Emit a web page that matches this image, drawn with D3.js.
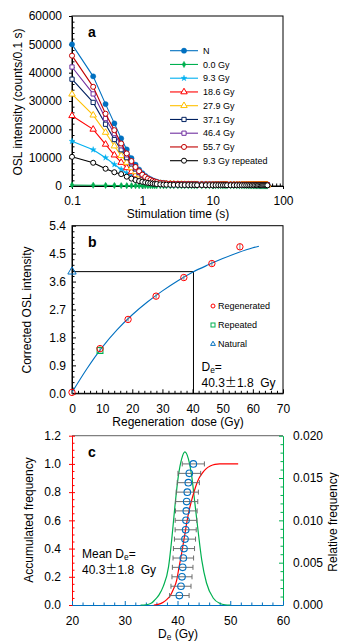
<!DOCTYPE html>
<html><head><meta charset="utf-8">
<script src="https://cdn.jsdelivr.net/npm/d3@7"></script>
<style>
body{margin:0;background:#fff}
svg{display:block}
text{font-family:"Liberation Sans",Arial,sans-serif;fill:#000}
</style>
</head><body>
<svg id="chart" width="339" height="642"></svg>
<script>
// ---------- Panel a data ----------
const timeA = [0.1,0.2,0.3,0.4,0.5,0.6,0.7,0.8,0.9,1.0,1.1,1.2,1.3,1.4,1.5,1.6,1.8,2.0,2.2,2.5,2.8,3.2,3.6,4,4.5,5,5.5,6,7,8,9,10,11,12,13,14,15,16,18,20,22,24,26,28,30,32,34,36,38,40,42,44,46,48,50,52,54,56,58,60];
const serN   = [50000,38700,28900,22100,16800,12900,9800,7500,5800,4500,3600,2900,2400,2000,1700,1500,1200,1050,950,860,800,750,720,700,680,660,650,640,630,620,610,600,595,590,585,580,575,570,565,560,555,550,548,545,542,540,538,535,532,530,528,525,522,520,518,515,512,510,508,505];
const ser00  = [350,280,210,170,140,120,105,95,88,82,78,75,72,70,68,66,64,62,60,58,57,56,55,54,53,52,52,51,51,50,50,50,49,49,49,48,48,48,47,47,47,46,46,46,45,45,45,45,44,44,44,44,43,43,43,43,42,42,42,42];
const ser93  = [15800,12800,10000,7600,5900,4600,3600,2800,2300,1900,1550,1300,1100,940,820,720,600,520,470,430,400,380,365,353,343,335,328,322,317,312,308,304,300,297,294,291,288,286,284,281,279,277,275,273,271,270,268,266,265,263,262,260,259,258,256,255,254,253,251,250];
const ser186 = [24800,20000,14700,10900,8300,6400,5000,3900,3100,2500,2000,1650,1380,1170,1000,880,720,640,580,535,500,475,458,444,433,423,415,408,402,396,391,386,382,378,374,371,368,365,362,359,357,354,352,350,348,346,344,342,340,338,337,335,333,332,330,329,327,326,324,323];
const ser279 = [32400,25000,18900,14100,10700,8300,6400,5000,3900,3100,2500,2000,1650,1400,1200,1050,860,760,690,630,590,560,540,520,508,496,487,479,471,464,458,452,447,443,439,435,431,428,424,421,418,415,413,410,408,405,403,401,399,397,395,393,391,389,387,385,383,381,379,377];
const ser371 = [37700,29500,21800,16400,12800,10000,7800,6000,4700,3700,2950,2400,1950,1650,1400,1230,1000,880,800,730,680,645,620,600,585,572,562,553,545,537,530,524,518,513,508,504,500,496,492,488,485,482,479,476,473,470,468,465,463,461,459,457,455,453,451,449,447,445,443,441];
const ser464 = [42000,32500,23800,18500,14200,11000,8400,6400,5000,3900,3100,2500,2050,1720,1480,1300,1060,930,840,770,720,680,650,630,615,600,590,580,570,560,553,546,540,535,530,525,521,517,513,509,505,502,499,496,493,490,487,485,482,480,477,475,473,471,469,467,465,463,461,459];
const ser557 = [46000,35000,25500,19700,15000,11500,8800,6700,5200,4000,3200,2600,2150,1800,1550,1350,1100,960,870,800,750,710,680,660,640,625,615,605,595,585,578,570,565,560,555,550,546,542,538,534,530,527,524,521,518,515,512,510,507,505,502,500,498,496,494,492,490,488,486,484];
const ser93r = [10300,8200,6100,4850,4200,3300,2600,2100,1750,1480,1270,1100,960,850,760,690,580,510,460,420,395,375,360,348,338,330,323,317,312,307,303,299,296,293,290,287,284,282,280,278,276,274,272,270,268,267,265,264,262,261,260,258,257,256,255,253,252,251,250,249];
const seriesNamesA = ["N","0.0 Gy","9.3 Gy","18.6 Gy","27.9 Gy","37.1 Gy","46.4 Gy","55.7 Gy","9.3 Gy repeated"];
const seriesValuesA = [serN,ser00,ser93,ser186,ser279,ser371,ser464,ser557,ser93r];
const xTicksA = [0.1,1,10,100];
const yTicksA = [0,10000,20000,30000,40000,50000,60000];

// ---------- Panel b data ----------
const doseRegen = [0,9.3,18.6,27.9,37.1,46.4,55.7];
const ratioRegen = [0.03,1.44,2.38,3.13,3.73,4.18,4.72];
const errRegen = [0.05,0.08,0.07,0.08,0.07,0.08,0.09];
const doseRepeat = [9.3];
const ratioRepeat = [1.38];
const doseNatural = [0];
const ratioNatural = [3.92];
const fitDose = [0,5,10,15,20,25,30,35,40,45,50,55,60,62];
const fitRatio = [0.03,0.8,1.48,2.05,2.53,2.94,3.3,3.62,3.9,4.13,4.34,4.53,4.69,4.74];
const deValue = 40.3;
const xTicksB = [0,10,20,30,40,50,60,70];
const yTicksB = [0,0.9,1.8,2.7,3.6,4.5,5.4];

// ---------- Panel c data ----------
const aliquotDe = [40.35,40.66,40.85,40.98,41.1,41.23,41.42,41.55,41.61,41.67,41.74,41.86,42.05,42.24,43.0];
const aliquotErr = [1.85,1.9,1.9,1.95,1.95,2.0,2.0,2.0,2.05,2.05,2.1,2.1,2.1,2.15,2.1];
const aliquotCum = [0.067,0.133,0.2,0.267,0.333,0.4,0.467,0.533,0.6,0.667,0.733,0.8,0.867,0.933,1.0];
const relDe = [33,34,35,35.7,36.5,37.3,38.3,38.9,39.5,40.15,40.8,41.4,42.05,42.7,43.3,43.95,44.6,45.5,46.8,48,49,50];
const relFreq = [0,0.00003,0.0002,0.0006,0.0012,0.0022,0.0045,0.0077,0.0116,0.0152,0.0173,0.0181,0.0173,0.0152,0.012,0.0085,0.0053,0.0026,0.0008,0.0002,0.00003,0];
const cumDe = [35.5,36.5,37.3,38,38.6,39.2,39.85,40.3,40.8,41.3,41.74,42.2,42.7,43.2,43.64,44.1,44.6,45.4,46.2,47.1,48,51.5];
const cumFreq = [0,0.006,0.02,0.04,0.065,0.11,0.177,0.27,0.37,0.48,0.58,0.67,0.745,0.81,0.86,0.9,0.93,0.965,0.985,0.997,1.0,1.0];
const xTicksC = [20,30,40,50,60];
const yTicksCL = [0,0.2,0.4,0.6,0.8,1.0,1.2];
const yTicksCR = [0,0.005,0.01,0.015,0.02];

// ---------- styles ----------
const styleA = [
  {c:"#0070c0", sym:d3.symbolCircle, fill:true, size:22},
  {c:"#00b050", sym:d3.symbolDiamond, fill:true, size:12},
  {c:"#00b0f0", sym:d3.symbolStar, fill:true, size:11},
  {c:"#ff0000", sym:d3.symbolTriangle, fill:false, size:18},
  {c:"#ffc000", sym:d3.symbolTriangle, fill:false, size:18},
  {c:"#002060", sym:d3.symbolSquare, fill:false, size:18},
  {c:"#7030a0", sym:d3.symbolSquare, fill:false, size:18},
  {c:"#c00000", sym:d3.symbolCircle, fill:false, size:20},
  {c:"#000000", sym:d3.symbolCircle, fill:false, size:20}
];
const FS = 12;
const svg = d3.select("#chart");

function styleAxis(g, color){
  g.selectAll("path.domain").attr("stroke", color).attr("stroke-width",1);
  g.selectAll(".tick line").attr("stroke", color).attr("stroke-width",1);
  g.selectAll(".tick text").attr("fill", color).attr("font-size",FS)
    .style("font-family",'"Liberation Sans",Arial,sans-serif');
}
function minorAxis(axisFn, scale, vals, size, tx, ty, color){
  const g = svg.append("g").attr("transform",`translate(${tx},${ty})`)
    .call(axisFn(scale).tickValues(vals).tickSizeInner(size).tickSizeOuter(0).tickFormat(""));
  g.select("path.domain").remove();
  g.selectAll(".tick line").attr("stroke",color).attr("stroke-width",1);
  return g;
}
function sub(x, y, pre, post, fs){
  const tx = svg.append("text").attr("x",x).attr("y",y).attr("font-size",fs);
  tx.append("tspan").text(pre);
  tx.append("tspan").attr("font-size",fs*0.7).attr("dy",fs*0.22).text("e");
  tx.append("tspan").attr("dy",-fs*0.22).text(post);
  return tx;
}
function pm(x, y, fs){
  const tx = svg.append("text").attr("x",x).attr("y",y).attr("font-size",fs);
  tx.append("tspan").text("40.3");
  tx.append("tspan").style("font-family",'"Noto Sans CJK SC",sans-serif').text("\u00b1");
  tx.append("tspan").text("1.8\u00a0\u00a0Gy");
  return tx;
}

// =============== Panel a ===============
const A = {l:72, r:283, t:16, b:186};
const xA = d3.scaleLog().domain([0.1,100]).range([A.l,A.r]);
const yA = d3.scaleLinear().domain([0,60000]).range([A.b,A.t]);

svg.append("rect").attr("x",A.l).attr("y",A.t).attr("width",A.r-A.l).attr("height",A.b-A.t)
  .attr("fill","none").attr("stroke","#000").attr("stroke-width",1);

const minorYA = d3.range(0,60001,2000).filter(v=>!yTicksA.includes(v));
minorAxis(d3.axisLeft, yA, minorYA, -2.5, A.l, 0, "#000");
const gAy = svg.append("g").attr("transform",`translate(${A.l},0)`)
  .call(d3.axisLeft(yA).tickValues(yTicksA).tickSizeInner(3).tickSizeOuter(0).tickPadding(7).tickFormat(d=>String(d)));
styleAxis(gAy,"#000");
const minorXA = xA.ticks().filter(v=>!xTicksA.some(t=>Math.abs(t-v)<1e-9));
minorAxis(d3.axisBottom, xA, minorXA, -2.5, 0, A.b, "#000");
const gAx = svg.append("g").attr("transform",`translate(0,${A.b})`)
  .call(d3.axisBottom(xA).tickValues(xTicksA).tickSizeInner(3).tickSizeOuter(0).tickPadding(7.5).tickFormat(d=>String(d)));
styleAxis(gAx,"#000");

const plotA = svg.append("g");
seriesValuesA.forEach((vals,i)=>{
  const st = styleA[i];
  const pts = timeA.map((t,j)=>[t,vals[j]]);
  plotA.append("path").datum(pts)
    .attr("d", d3.line().x(d=>xA(d[0])).y(d=>yA(d[1])))
    .attr("fill","none").attr("stroke",st.c).attr("stroke-width",1.1);
  plotA.selectAll(null).data(pts).enter().append("path")
    .attr("transform",d=>`translate(${xA(d[0])},${yA(d[1])})`)
    .attr("d", d3.symbol().type(st.sym).size(st.size))
    .attr("fill", st.fill? st.c : "#fff").attr("stroke",st.c).attr("stroke-width",st.fill?0.4:1);
});

// legend a
const legA = svg.append("g");
seriesNamesA.forEach((nm,i)=>{
  const st = styleA[i];
  const y = 50.7 + i*13.75;
  legA.append("line").attr("x1",170).attr("x2",198).attr("y1",y).attr("y2",y).attr("stroke",st.c).attr("stroke-width",1.1);
  legA.append("path").attr("transform",`translate(184,${y})`)
    .attr("d", d3.symbol().type(st.sym).size(st.size))
    .attr("fill", st.fill? st.c : "#fff").attr("stroke",st.c).attr("stroke-width",st.fill?0.4:1);
  legA.append("text").attr("x",203).attr("y",y+3.2).attr("font-size",9).text(nm);
});

svg.append("text").attr("x",88).attr("y",37).attr("font-size",14).attr("font-weight","bold").text("a");
svg.append("text").attr("transform","translate(22,102) rotate(-90)").attr("text-anchor","middle")
  .attr("font-size",FS).text("OSL intensity (counts/0.1 s)");
svg.append("text").attr("x",178).attr("y",218).attr("text-anchor","middle").attr("font-size",FS).text("Stimulation time (s)");

// =============== Panel b ===============
const B = {l:72, r:283, t:225.7, b:393.3};
const xB = d3.scaleLinear().domain([0,70]).range([B.l,B.r]);
const yB = d3.scaleLinear().domain([0,5.4]).range([B.b,B.t]);

svg.append("rect").attr("x",B.l).attr("y",B.t).attr("width",B.r-B.l).attr("height",B.b-B.t)
  .attr("fill","none").attr("stroke","#000").attr("stroke-width",1);
minorAxis(d3.axisLeft, yB, d3.range(0,5.41,0.18).filter((v,i)=>i%5!==0), -2.5, B.l, 0, "#000");
const gBy = svg.append("g").attr("transform",`translate(${B.l},0)`)
  .call(d3.axisLeft(yB).tickValues(yTicksB).tickSizeInner(-4).tickSizeOuter(0).tickPadding(6).tickFormat(d3.format(".1f")));
styleAxis(gBy,"#000");
minorAxis(d3.axisBottom, xB, d3.range(0,70.1,2).filter(v=>v%10!==0), -2.5, 0, B.b, "#000");
const gBx = svg.append("g").attr("transform",`translate(0,${B.b})`)
  .call(d3.axisBottom(xB).tickValues(xTicksB).tickSizeInner(-4).tickSizeOuter(0).tickPadding(11).tickFormat(d=>String(d)));
styleAxis(gBx,"#000");

// De lines
svg.append("line").attr("x1",xB(0)).attr("x2",xB(deValue)).attr("y1",yB(ratioNatural[0])).attr("y2",yB(ratioNatural[0]))
  .attr("stroke","#000").attr("stroke-width",1);
svg.append("line").attr("x1",xB(deValue)).attr("x2",xB(deValue)).attr("y1",yB(ratioNatural[0])).attr("y2",yB(0))
  .attr("stroke","#000").attr("stroke-width",1);
// fit curve
svg.append("path").datum(fitDose.map((d,i)=>[d,fitRatio[i]]))
  .attr("d", d3.line().x(d=>xB(d[0])).y(d=>yB(d[1])).curve(d3.curveMonotoneX))
  .attr("fill","none").attr("stroke","#0070c0").attr("stroke-width",1.1);
// error bars
doseRegen.forEach((d,i)=>{
  svg.append("line").attr("x1",xB(d)).attr("x2",xB(d)).attr("y1",yB(ratioRegen[i]-errRegen[i])).attr("y2",yB(ratioRegen[i]+errRegen[i]))
    .attr("stroke","#808080").attr("stroke-width",1);
});
svg.selectAll(null).data(doseRepeat.map((d,i)=>[d,ratioRepeat[i]])).enter().append("path")
  .attr("transform",d=>`translate(${xB(d[0])},${yB(d[1])})`)
  .attr("d", d3.symbol().type(d3.symbolSquare).size(34))
  .attr("fill","none").attr("stroke","#00b050").attr("stroke-width",1.1);
svg.selectAll(null).data(doseRegen.map((d,i)=>[d,ratioRegen[i]])).enter().append("circle")
  .attr("cx",d=>xB(d[0])).attr("cy",d=>yB(d[1])).attr("r",3.2)
  .attr("fill","none").attr("stroke","#ff0000").attr("stroke-width",1);
svg.selectAll(null).data(doseNatural.map((d,i)=>[d,ratioNatural[i]])).enter().append("path")
  .attr("transform",d=>`translate(${xB(d[0])},${yB(d[1])})`)
  .attr("d", d3.symbol().type(d3.symbolTriangle).size(30))
  .attr("fill","none").attr("stroke","#0070c0").attr("stroke-width",1);

// legend b
const legB = [
  {n:"Regenerated", y:306, draw:(g,y)=>g.append("circle").attr("cx",213).attr("cy",y).attr("r",2).attr("fill","none").attr("stroke","#ff0000").attr("stroke-width",1)},
  {n:"Repeated", y:325, draw:(g,y)=>g.append("rect").attr("x",211).attr("y",y-2).attr("width",4).attr("height",4).attr("fill","none").attr("stroke","#00b050").attr("stroke-width",1)},
  {n:"Natural", y:343.5, draw:(g,y)=>g.append("path").attr("transform",`translate(213,${y+0.5})`).attr("d",d3.symbol().type(d3.symbolTriangle).size(10)).attr("fill","none").attr("stroke","#0070c0").attr("stroke-width",1)}
];
legB.forEach(l=>{ l.draw(svg,l.y); svg.append("text").attr("x",218).attr("y",l.y+3.2).attr("font-size",9).text(l.n); });

sub(201.5, 370.5, "D", "=", FS);
pm(201.5, 386.5, FS);
svg.append("text").attr("x",88).attr("y",246.5).attr("font-size",14).attr("font-weight","bold").text("b");
svg.append("text").attr("transform","translate(31,310) rotate(-90)").attr("text-anchor","middle")
  .attr("font-size",FS).text("Corrected OSL intensity");
svg.append("text").attr("x",178).attr("y",426).attr("text-anchor","middle").attr("font-size",FS)
  .text("Regeneration\u00a0\u00a0dose (Gy)");

// =============== Panel c ===============
const C = {l:72, r:283, t:435.7, b:605};
const xC = d3.scaleLinear().domain([20,60]).range([C.l,C.r]);
const yCL = d3.scaleLinear().domain([0,1.2]).range([C.b,C.t]);
const yCR = d3.scaleLinear().domain([0,0.02]).range([C.b,C.t]);
const RED="#ff0000", GRN="#00b050", BLU="#0070c0";

svg.append("line").attr("x1",C.l).attr("x2",C.r).attr("y1",C.t).attr("y2",C.t).attr("stroke","#808080").attr("stroke-width",1.3);

minorAxis(d3.axisLeft, yCL, d3.range(0,1.201,0.05).filter((v,i)=>i%4!==0), -2.5, C.l, 0, RED);
minorAxis(d3.axisLeft, yCL, yTicksCL, -3, C.l, 0, RED);
const gCl = svg.append("g").attr("transform",`translate(${C.l},0)`)
  .call(d3.axisLeft(yCL).tickValues(yTicksCL).tickSizeInner(3).tickSizeOuter(0).tickPadding(8).tickFormat(d3.format(".1f")));
styleAxis(gCl,RED);

minorAxis(d3.axisRight, yCR, d3.range(0,0.02001,0.001).filter((v,i)=>i%5!==0), -2.5, C.r, 0, GRN);
const gCr = svg.append("g").attr("transform",`translate(${C.r},0)`)
  .call(d3.axisRight(yCR).tickValues(yTicksCR).tickSizeInner(-4).tickSizeOuter(0).tickPadding(10).tickFormat(d3.format(".3f")));
styleAxis(gCr,GRN);

minorAxis(d3.axisBottom, xC, d3.range(20,60.1,2).filter(v=>v%10!==0), -2.5, 0, C.b, BLU);
const gCx = svg.append("g").attr("transform",`translate(0,${C.b})`)
  .call(d3.axisBottom(xC).tickValues(xTicksC).tickSizeInner(-4).tickSizeOuter(0).tickPadding(11).tickFormat(d=>String(d)));
styleAxis(gCx,BLU);

// green relative frequency
svg.append("path").datum(relDe.map((d,i)=>[d,relFreq[i]]))
  .attr("d", d3.line().x(d=>xC(d[0])).y(d=>yCR(d[1])).curve(d3.curveMonotoneX))
  .attr("fill","none").attr("stroke",GRN).attr("stroke-width",1.2);
// red cumulative
svg.append("path").datum(cumDe.map((d,i)=>[d,cumFreq[i]]))
  .attr("d", d3.line().x(d=>xC(d[0])).y(d=>yCL(d[1])).curve(d3.curveMonotoneX))
  .attr("fill","none").attr("stroke",RED).attr("stroke-width",1.2);
// error bars
aliquotDe.forEach((d,i)=>{
  const y = yCL(aliquotCum[i]);
  const x0 = xC(d-aliquotErr[i]), x1 = xC(d+aliquotErr[i]);
  const g = svg.append("g").attr("stroke","#6d6d6d").attr("stroke-width",1);
  g.append("line").attr("x1",x0).attr("x2",x1).attr("y1",y).attr("y2",y);
  g.append("line").attr("x1",x0).attr("x2",x0).attr("y1",y-2.5).attr("y2",y+2.5);
  g.append("line").attr("x1",x1).attr("x2",x1).attr("y1",y-2.5).attr("y2",y+2.5);
});
svg.selectAll(null).data(aliquotDe.map((d,i)=>[d,aliquotCum[i]])).enter().append("circle")
  .attr("cx",d=>xC(d[0])).attr("cy",d=>yCL(d[1])).attr("r",3.3)
  .attr("fill","none").attr("stroke",BLU).attr("stroke-width",1.1);

svg.append("text").attr("x",88).attr("y",457).attr("font-size",14).attr("font-weight","bold").text("c");
sub(82, 557.5, "Mean D", "=", FS);
pm(82, 573.5, FS);
svg.append("text").attr("transform","translate(33,520) rotate(-90)").attr("text-anchor","middle")
  .attr("font-size",FS).text("Accumulated frequency");
svg.append("text").attr("transform","translate(337,522) rotate(-90)").attr("text-anchor","middle")
  .attr("font-size",FS).text("Relative frequency");
const xt = svg.append("text").attr("x",178).attr("y",637.5).attr("text-anchor","middle").attr("font-size",FS);
xt.append("tspan").text("D");
xt.append("tspan").attr("font-size",FS*0.7).attr("dy",FS*0.22).text("e");
xt.append("tspan").attr("dy",-FS*0.22).text(" (Gy)");
</script>
</body></html>
